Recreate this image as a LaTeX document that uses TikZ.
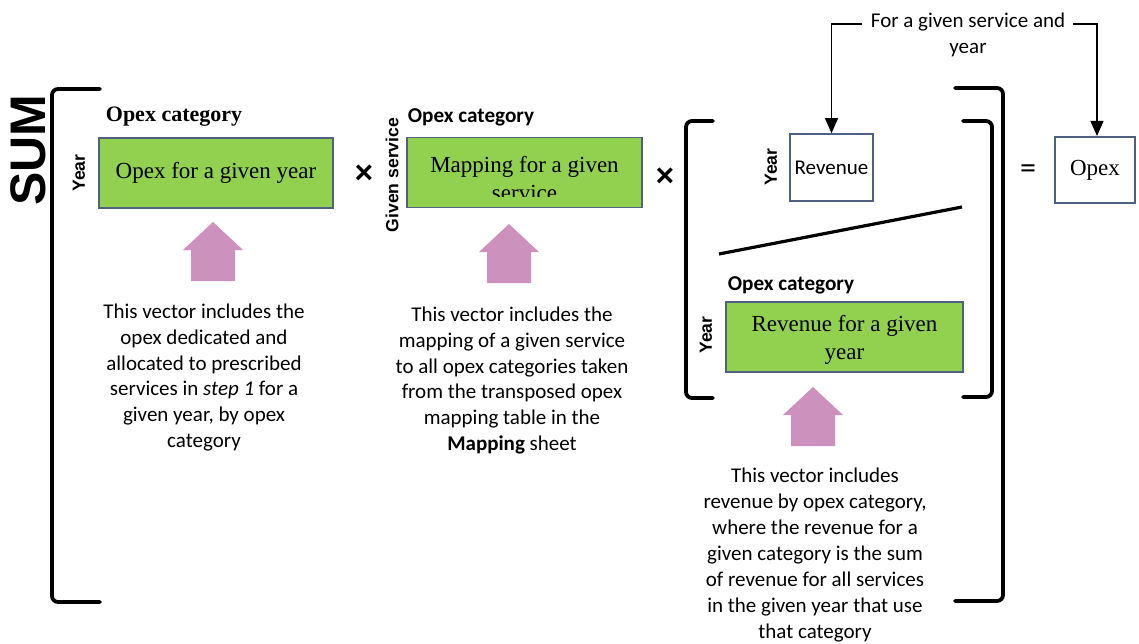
\documentclass[tikz,border=0pt]{standalone}
\usepackage{fontspec}
\setmainfont{Liberation Serif}
\newfontfamily\calibri{Carlito}
\newfontfamily\arialf{Liberation Sans}
\usetikzlibrary{arrows.meta}
\definecolor{greenc}{RGB}{146,208,80}
\definecolor{boxc}{RGB}{80,96,128}
\definecolor{pinkc}{RGB}{205,145,190}
\tikzset{
  greenbox/.style={draw=boxc, line width=1.6, fill=greenc, inner sep=0, minimum width=234, minimum height=70},
  whitebox/.style={draw=boxc, line width=1.6, fill=white, inner sep=0},
  serifbig/.style={font=\fontsize{23}{28}\selectfont, align=center},
  catserif/.style={font=\fontsize{22}{24}\selectfont\bfseries},
  catsans/.style={font=\calibri\fontsize{21.2}{24}\selectfont\bfseries},
  sidelbl/.style={font=\arialf\fontsize{17.6}{20}\selectfont\bfseries, rotate=90},
  desc/.style={font=\calibri\fontsize{21}{25.9}\selectfont, align=center},
  brk/.style={line width=3.8, rounded corners=6, line cap=round},
  conn/.style={line width=1.2, -{Triangle[length=15,width=13]}},
  opsign/.style={font=\arialf\fontsize{32}{32}\selectfont\bfseries},
  uparrow/.pic={\fill[pinkc] (0,0) -- (30,28) -- (22,28) -- (22,59) -- (-22,59) -- (-22,28) -- (-30,28) -- cycle;}
}
\begin{document}
\begin{tikzpicture}[x=1pt,y=-1pt]
\useasboundingbox (0,0) rectangle (1139,644);

% SUM and outer brackets
\node[font=\arialf\fontsize{50}{50}\selectfont\bfseries, rotate=90] (sum) at (28,150) {SUM};
\draw[brk] (100,89) -- (52,89) -- (52,602) -- (100,602);
\draw[brk] (955,88) -- (1003,88) -- (1003,601) -- (955,601);

% first vector
\node[catserif] (cat1) at (174,117) {Opex category};
\node[greenbox] (opexbox) at (216,173) {};
\node[serifbig] (opextxt) at (opexbox) {Opex for a given year};
\node[sidelbl] (year1) at (79,173) {Year};
\pic at (213,222) {uparrow};
\node[desc] (d1) at (204,377.5) {This vector includes the\\opex dedicated and\\allocated to prescribed\\services in \textit{step 1} for a\\given year, by opex\\category};

\node[opsign] (times1) at (364,174) {×};

% second vector
\node[sidelbl] (gs) at (392,175) {Given service};
\node[catsans] (cat2) at (471,117) {Opex category};
\node[greenbox, minimum width=235] (mapbox) at (524.5,172.5) {};
\begin{scope}
\clip (408,138) rectangle (641,197);
\node[serifbig] (maptxt) at (524.5,179) {Mapping for a given\\service};
\end{scope}
\pic at (509,224) {uparrow};
\node[desc] (d2) at (512,380.5) {This vector includes the\\mapping of a given service\\to all opex categories taken\\from the transposed opex\\mapping table in the\\\textbf{Mapping} sheet};

\node[opsign] (times2) at (665,177) {×};

% inner bracket
\draw[brk] (713,121) -- (686,121) -- (686,398) -- (713,398);
\draw[brk] (963,121) -- (992,121) -- (992,397) -- (963,397);

\node[whitebox, minimum width=83, minimum height=67] (rev) at (831.5,167.5) {};
\node[font=\calibri\fontsize{21}{24}\selectfont] (revtxt) at (rev) {Revenue};
\node[sidelbl] (year3) at (771,167) {Year};
\coordinate (dg1) at (719,254);
\coordinate (dg2) at (962,207);
\draw[line width=3.2] (dg1) -- (dg2);

\node[catsans] (cat3) at (791,285) {Opex category};
\node[greenbox, minimum width=237] (revbox) at (844.5,337) {};
\node[serifbig] (revboxtxt) at (844.5,340) {Revenue for a given\\year};
\node[sidelbl] (year4) at (706,335) {Year};
\pic at (813,387) {uparrow};
\node[desc] (d3) at (815,555) {This vector includes\\revenue by opex category,\\where the revenue for a\\given category is the sum\\of revenue for all services\\in the given year that use\\that category};

% equals and result
\node[font=\calibri\fontsize{32}{32}\selectfont] (eq) at (1028,172) {=};
\node[whitebox, minimum width=80, minimum height=66] (opex) at (1095,170) {};
\node[font=\fontsize{23}{26}\selectfont] (opextxt2) at (opex) {Opex};

% top note and connectors
\node[desc] (note) at (968,35) {For a given service and\\year};
\coordinate (c1) at (862,24);
\coordinate (c2) at (1073,24);
\draw[conn] (c1) -| (rev.north);
\draw[conn] (c2) -| (1097,136);
\end{tikzpicture}
\end{document}
